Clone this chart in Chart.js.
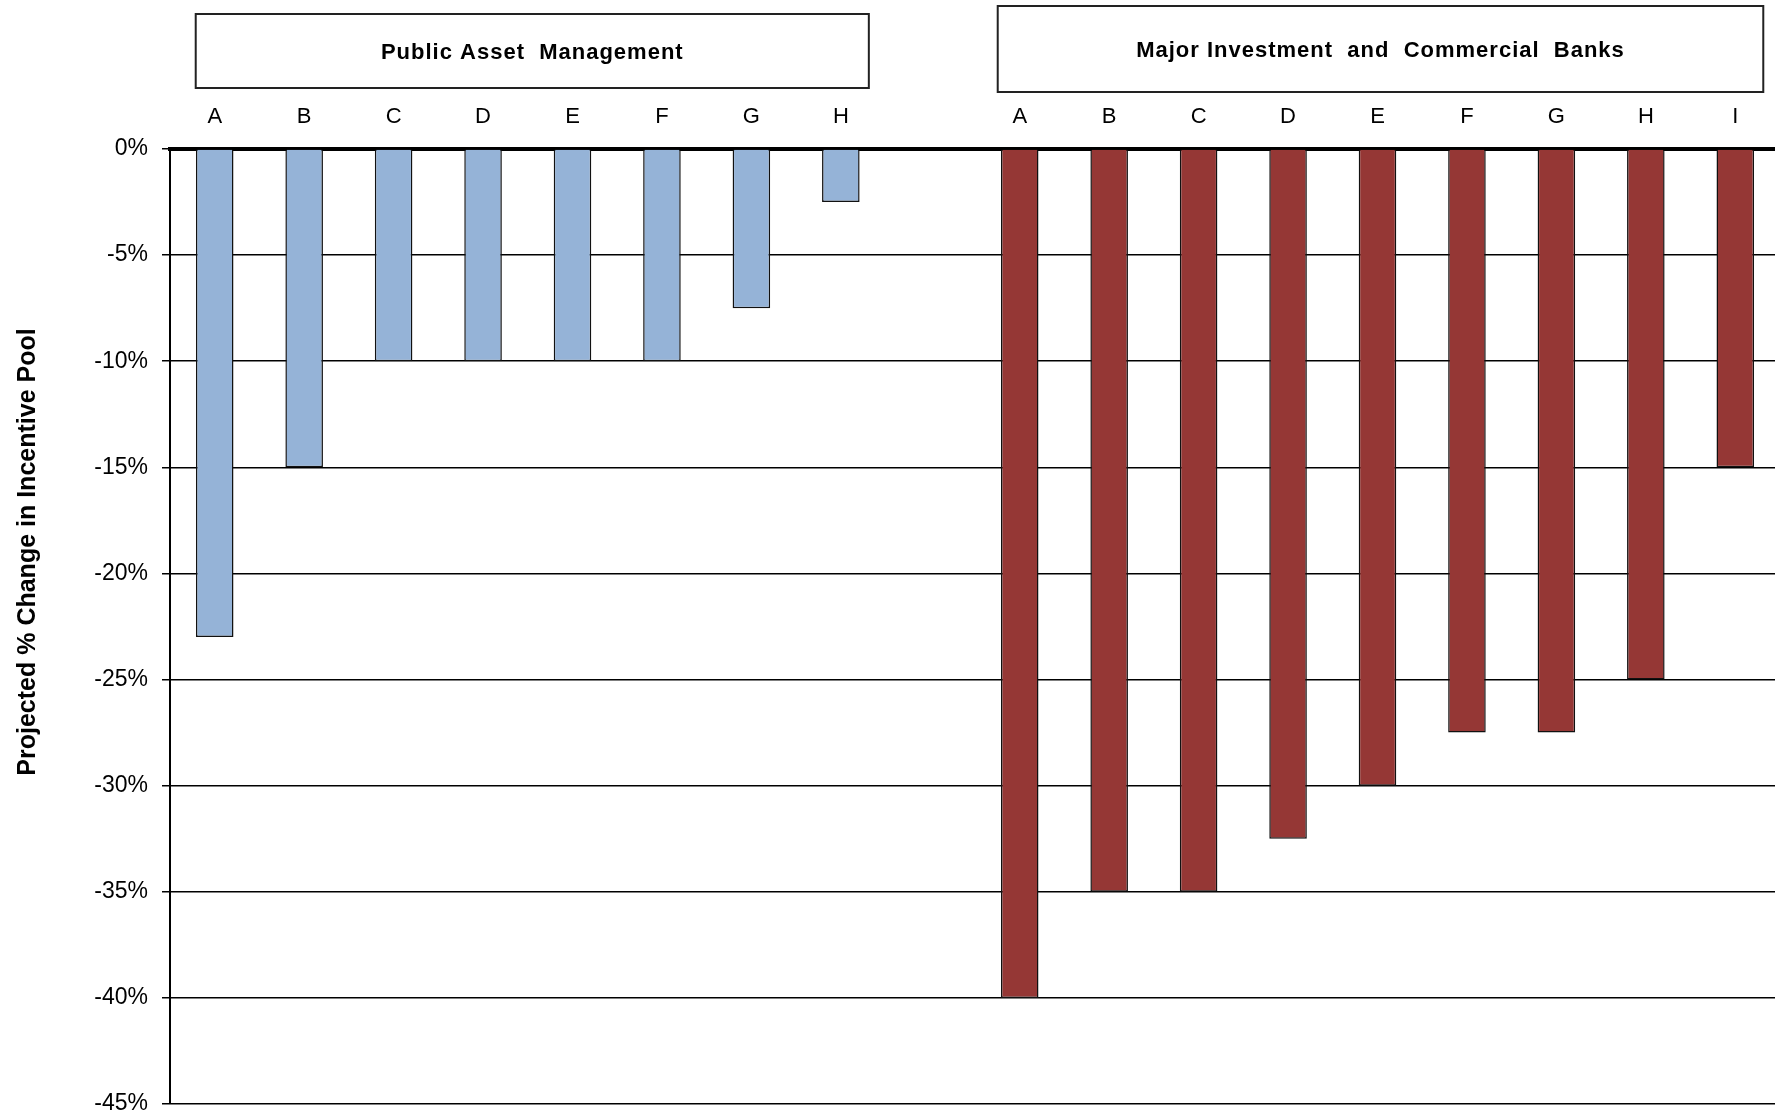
<!DOCTYPE html>
<html lang="en">
  <head>
    <meta charset="UTF-8" />
    <title>Projected Change in Incentive Pool</title>
    <style>
      body {
        margin: 0;
        background: #fff;
        overflow: hidden;
      }
      #wrap {
        width: 1780px;
        height: 1116px;
      }
    </style>
  </head>
  <body>
    <div id="wrap">
      <canvas id="poolChart" width="1780" height="1116"></canvas>
    </div>

    <script src="https://cdn.jsdelivr.net/npm/chart.js"></script>
    <script>
      // Public asset managers
      const publicLabels = ['A', 'B', 'C', 'D', 'E', 'F', 'G', 'H'];
      const publicValues = [-23, -15, -10, -10, -10, -10, -7.5, -2.5];

      // Major investment and commercial banks
      const bankLabels = ['A', 'B', 'C', 'D', 'E', 'F', 'G', 'H', 'I'];
      const bankValues = [-40, -35, -35, -32.5, -30, -27.5, -27.5, -25, -15];

      const yTicks = [0, -5, -10, -15, -20, -25, -30, -35, -40, -45];
      const groupTitles = ['Public Asset  Management', 'Major Investment  and  Commercial  Banks'];
      const yTitle = 'Projected % Change in Incentive Pool';

      const blue = '#95B3D7';
      const red = '#953735';
      const FONT = '"Liberation Sans", Arial, sans-serif';

      // one empty slot between the two groups
      const labels = [...publicLabels, '', ...bankLabels];
      const values = [...publicValues, null, ...bankValues];
      const colors = [
        ...publicValues.map(() => blue),
        blue,
        ...bankValues.map(() => red),
      ];

      // boxed group headings above the letters, plus the axis title
      const decorations = {
        id: 'decorations',
        afterDraw(chart) {
          const { ctx } = chart;
          const x = chart.scales.x;
          const spans = [
            [0, publicLabels.length - 1],
            [publicLabels.length + 1, labels.length - 1],
          ];
          const tops = [14, 6];
          const bottoms = [88, 92];
          const leftPad = [19, 22];
          ctx.save();
          spans.forEach(([a, b], i) => {
            const left = x.getPixelForValue(a) - leftPad[i];
            const right = x.getPixelForValue(b) + 28;
            ctx.strokeStyle = '#222';
            ctx.lineWidth = 2;
            ctx.strokeRect(left, tops[i], right - left, bottoms[i] - tops[i]);
            ctx.fillStyle = '#000';
            ctx.font = 'bold 22px ' + FONT;
            ctx.letterSpacing = '1px';
            ctx.textAlign = 'center';
            ctx.textBaseline = 'middle';
            ctx.fillText(groupTitles[i], (left + right) / 2, (tops[i] + bottoms[i]) / 2 + 2);
          });

          // rotated y axis title, sitting a little above the plot centre
          ctx.letterSpacing = '0px';
          ctx.translate(28, 552);
          ctx.rotate(-Math.PI / 2);
          ctx.font = 'bold 25px ' + FONT;
          ctx.textAlign = 'center';
          ctx.textBaseline = 'middle';
          ctx.fillText(yTitle, 0, 0);
          ctx.restore();
        },
      };

      new Chart(document.getElementById('poolChart').getContext('2d'), {
        type: 'bar',
        data: {
          labels: labels,
          datasets: [
            {
              data: values,
              backgroundColor: colors,
              borderColor: '#111',
              borderWidth: 1.5,
              barPercentage: 0.42,
              categoryPercentage: 1,
            },
          ],
        },
        options: {
          responsive: false,
          animation: false,
          layout: { padding: { top: 0, right: 0, bottom: 12, left: 0 } },
          plugins: {
            legend: { display: false },
            tooltip: { enabled: false },
          },
          scales: {
            x: {
              position: 'top',
              z: 1,
              afterFit: (s) => {
                s.height = 149;
              },
              grid: { display: false, drawTicks: false },
              border: { display: true, color: '#000', width: 4 },
              ticks: {
                color: '#000',
                padding: 19,
                maxRotation: 0,
                autoSkip: false,
                font: { family: FONT, size: 22 },
              },
            },
            y: {
              min: -45,
              max: 0,
              afterFit: (s) => {
                s.width = 170;
                s.paddingTop = 0;
                s.paddingBottom = 0;
              },
              afterBuildTicks: (s) => {
                s.ticks = yTicks.map((v) => ({ value: v }));
              },
              grid: {
                color: '#000',
                lineWidth: 1.5,
                tickLength: 8,
                tickColor: '#000',
                tickWidth: 1.5,
              },
              border: { display: true, color: '#000', width: 2 },
              ticks: {
                color: '#000',
                padding: 14,
                font: { family: FONT, size: 23 },
                callback: (v) => v + '%',
              },
            },
          },
        },
        plugins: [decorations],
      });
    </script>
  </body>
</html>
